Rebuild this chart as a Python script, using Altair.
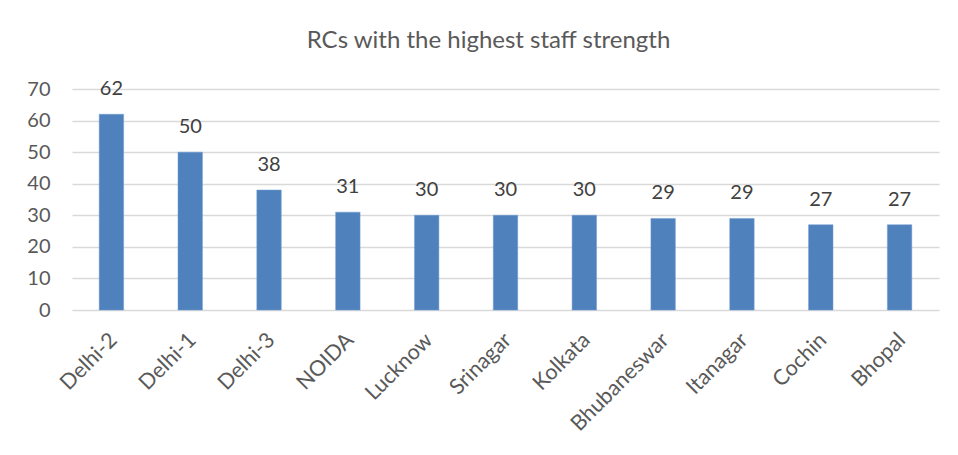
import altair as alt
import pandas as pd

categories = ["Delhi-2", "Delhi-1", "Delhi-3", "NOIDA", "Lucknow", "Srinagar",
              "Kolkata", "Bhubaneswar", "Itanagar", "Cochin", "Bhopal"]
values = [62, 50, 38, 31, 30, 30, 30, 29, 29, 27, 27]
y_ticks = [0, 10, 20, 30, 40, 50, 60, 70]

df = pd.DataFrame({"rc": categories, "staff": values})

FONT = "Lato"

base = alt.Chart(df).encode(
    x=alt.X("rc:N", sort=categories, title=None,
            scale=alt.Scale(paddingInner=0.69, paddingOuter=0.345),
            axis=alt.Axis(labelAngle=-45, labelFontSize=21.5, labelColor="#595959",
                          labelFont=FONT, ticks=False, domain=False, labelPadding=19,
                          labelOffset=-5, labelAlign="right", labelBaseline="top",
                          labelOverlap=False, grid=False)),
    y=alt.Y("staff:Q", title=None,
            scale=alt.Scale(domain=[0, 70], nice=False),
            axis=alt.Axis(values=y_ticks, labelFontSize=20, labelColor="#595959",
                          labelFont=FONT, ticks=False, domain=False, labelPadding=22,
                          labelOverlap=False, gridColor="#D9D9D9", gridWidth=1.3)),
)

bars = base.mark_bar(color="#4F81BD", stroke="#6E9AD0", strokeWidth=0.5)
labels = base.mark_text(dy=-25, fontSize=20, color="#404040", font=FONT,
                        baseline="middle").encode(text="staff:Q")

chart = (bars + labels).properties(
    width=867, height=221,
    title=alt.TitleParams("RCs with the highest staff strength", fontSize=24,
                          font=FONT, fontWeight="normal", color="#595959",
                          anchor="middle", dx=-17, offset=26),
    autosize=alt.AutoSizeParams(type="none"),
    padding={"left": 64, "top": 81, "right": 10, "bottom": 136},
).configure_view(stroke=None)

chart.save("out.html", embed_options={"renderer": "svg", "actions": False})
